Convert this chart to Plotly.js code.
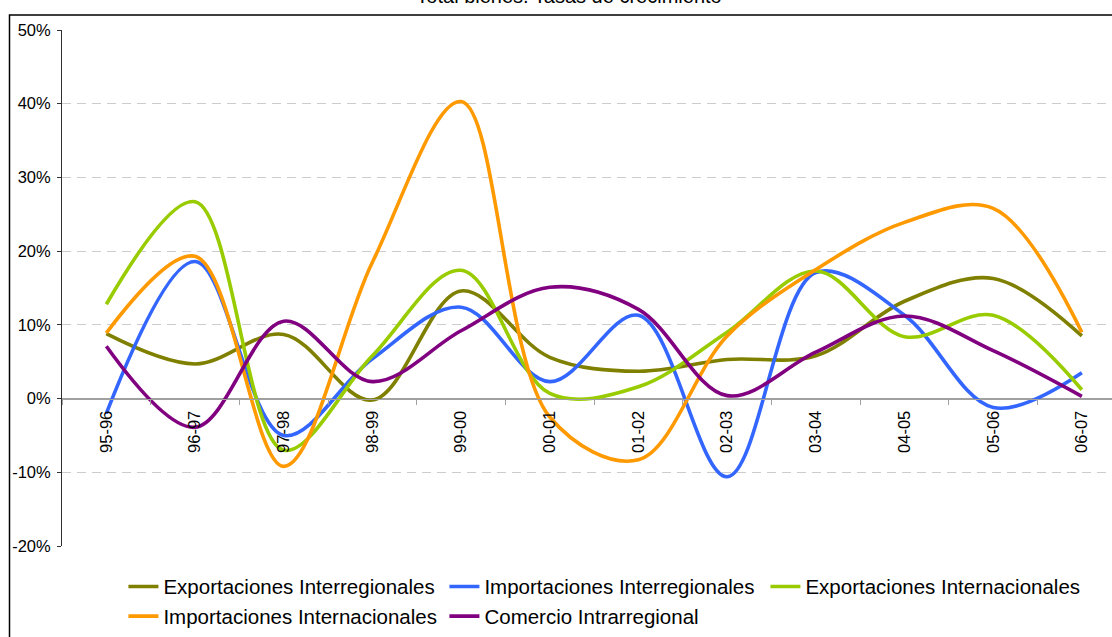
<!DOCTYPE html>
<html>
<head>
<meta charset="utf-8">
<script src="https://cdn.plot.ly/plotly-3.0.1.min.js"></script>
<style>
  html, body { margin: 0; padding: 0; overflow: hidden; background: #fff; }
  #chart { width: 1112px; height: 637px; }
</style>
</head>
<body>
<div id="chart"></div>
<script>
var categories = ["95-96","96-97","97-98","98-99","99-00","00-01","01-02","02-03","03-04","04-05","05-06","06-07"];

var exportacionesInterregionales = [8.8, 4.7, 8.7, -0.2, 14.6, 5.6, 3.7, 5.3, 5.8, 13.2, 16.3, 8.5];
var importacionesInterregionales = [-2.0, 18.6, -5.0, 5.4, 12.4, 2.3, 11.3, -10.6, 17.1, 11.3, -1.2, 3.5];
var exportacionesInternacionales = [12.8, 26.7, -7.0, 5.8, 17.4, 0.7, 1.6, 9.0, 17.3, 8.4, 11.3, 1.2];
var importacionesInternacionales = [8.9, 19.3, -9.2, 18.5, 40.3, -2.5, -8.3, 8.5, 17.5, 23.9, 25.8, 9.0];
var comercioIntrarregional = [7.1, -3.9, 10.5, 2.3, 9.2, 15.1, 12.1, 0.4, 6.3, 11.2, 6.5, 0.3];

var seriesNames = ["Exportaciones Interregionales","Importaciones Interregionales","Exportaciones Internacionales","Importaciones Internacionales","Comercio Intrarregional"];
var seriesColors = ["#808000","#3366FF","#99CC00","#FF9900","#800080"];

var yTickVals = [-20, -10, 0, 10, 20, 30, 40, 50];
var yTickText = ["-20%", "-10%", "0%", "10%", "20%", "30%", "40%", "50%"];

var titleText = "Total bienes. Tasas de crecimiento";

var seriesValues = [exportacionesInterregionales, importacionesInterregionales, exportacionesInternacionales, importacionesInternacionales, comercioIntrarregional];

var FONT = "Liberation Sans, Arial, sans-serif";

var traces = seriesValues.map(function(vals, i) {
  return {
    type: "scatter",
    mode: "lines",
    x: categories,
    y: vals,
    name: seriesNames[i],
    line: { color: seriesColors[i], width: 3.6, shape: "spline", smoothing: 1 },
    hoverinfo: "skip"
  };
});

var layout = {
  width: 1112,
  height: 637,
  margin: { l: 62, r: 0, t: 30, b: 89, pad: 0 },
  paper_bgcolor: "#ffffff",
  plot_bgcolor: "#ffffff",
  font: { family: FONT, color: "#000000", size: 16 },
  title: {
    text: titleText,
    font: { family: FONT, size: 20, color: "#000000" },
    x: 0.5117, xanchor: "center",
    y: 0.995, yanchor: "bottom", yref: "container"
  },
  showlegend: true,
  legend: {
    orientation: "h",
    x: 0.0585, xanchor: "left",
    y: -0.040, yanchor: "top",
    font: { family: FONT, size: 20.5, color: "#000000" },
    entrywidth: 276,
    entrywidthmode: "pixels",
    bgcolor: "rgba(0,0,0,0)",
    itemclick: false
  },
  xaxis: {
    type: "category",
    categoryorder: "array",
    categoryarray: categories,
    range: [-0.5, 11.34],
    anchor: "free",
    position: 0.2855,
    showline: true,
    linecolor: "#A0A0A0",
    linewidth: 1.5,
    ticks: "outside",
    tickson: "boundaries",
    ticklen: 5,
    tickcolor: "#A0A0A0",
    tickwidth: 1,
    tickangle: -90,
    ticklabelstandoff: 4,
    tickfont: { family: FONT, size: 16.5, color: "#000000" },
    showgrid: false,
    zeroline: false,
    automargin: false,
    fixedrange: true
  },
  yaxis: {
    range: [-20, 50],
    tickvals: yTickVals,
    ticktext: yTickText,
    showline: true,
    linecolor: "#303030",
    linewidth: 1,
    ticks: "outside",
    ticklen: 4,
    tickcolor: "#303030",
    ticklabelstandoff: 3,
    tickfont: { family: FONT, size: 16.5, color: "#000000" },
    showgrid: true,
    gridcolor: "#CCCCCC",
    gridwidth: 1,
    griddash: "9px,6px",
    zeroline: true,
    zerolinecolor: "#A0A0A0",
    zerolinewidth: 1.5,
    automargin: false,
    fixedrange: true
  },
  shapes: [
    {
      type: "rect", xref: "paper", yref: "paper",
      x0: -0.05, x1: 1.2, y0: -0.3, y1: 1.0289,
      line: { color: "#000000", width: 1.5 },
      fillcolor: "rgba(0,0,0,0)",
      layer: "above"
    }
  ]
};

Plotly.newPlot("chart", traces, layout, { staticPlot: true, displayModeBar: false });
</script>
</body>
</html>
